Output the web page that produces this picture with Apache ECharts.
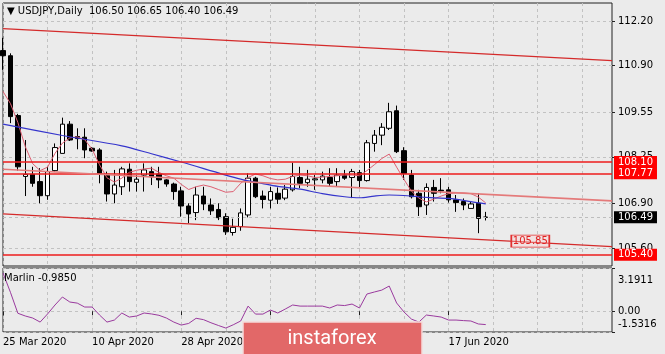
<!DOCTYPE html>
<html>
<head>
<meta charset="utf-8">
<script src="https://cdn.jsdelivr.net/npm/echarts@6/dist/echarts.min.js"></script>
<style>
  html, body { margin: 0; padding: 0; background: #ebebeb; }
  #chart { width: 665px; height: 354px; }
</style>
</head>
<body>
<div id="chart"></div>
<script>
// trading days shown on the chart
var dates = [
  '25 Mar 2020', '26 Mar 2020', '27 Mar 2020', '30 Mar 2020', '31 Mar 2020',
  '1 Apr 2020', '2 Apr 2020', '3 Apr 2020', '6 Apr 2020', '7 Apr 2020', '8 Apr 2020', '9 Apr 2020', '10 Apr 2020',
  '13 Apr 2020', '14 Apr 2020', '15 Apr 2020', '16 Apr 2020', '17 Apr 2020', '20 Apr 2020', '21 Apr 2020',
  '22 Apr 2020', '23 Apr 2020', '24 Apr 2020', '27 Apr 2020', '28 Apr 2020', '29 Apr 2020', '30 Apr 2020',
  '1 May 2020', '4 May 2020', '5 May 2020', '6 May 2020', '7 May 2020', '8 May 2020', '11 May 2020',
  '12 May 2020', '13 May 2020', '14 May 2020', '15 May 2020', '18 May 2020', '19 May 2020', '20 May 2020',
  '21 May 2020', '22 May 2020', '25 May 2020', '26 May 2020', '27 May 2020', '28 May 2020', '29 May 2020',
  '1 Jun 2020', '2 Jun 2020', '3 Jun 2020', '4 Jun 2020', '5 Jun 2020', '8 Jun 2020', '9 Jun 2020',
  '10 Jun 2020', '11 Jun 2020', '12 Jun 2020', '15 Jun 2020', '16 Jun 2020', '17 Jun 2020', '18 Jun 2020',
  '19 Jun 2020', '22 Jun 2020', '23 Jun 2020', '24 Jun 2020'
];
var emptySlots = 17; // chart shift on the right

var opens = [111.34,111.19,109.45,107.68,107.74,107.53,107.12,107.85,108.35,109.20,
  108.84,108.82,108.50,108.45,107.74,107.17,107.38,107.89,107.51,107.72,
  107.82,107.75,107.58,107.46,107.26,106.82,106.63,107.11,106.85,106.72,
  106.51,106.05,106.22,106.56,107.63,107.11,106.99,107.19,107.05,107.29,
  107.65,107.50,107.58,107.58,107.65,107.53,107.72,107.65,107.79,107.56,
  108.64,108.88,109.08,109.59,108.43,107.72,107.19,106.85,107.36,107.28,
  107.29,107.00,106.95,106.75,106.90,106.50];
var highs = [111.71,111.26,109.50,108.74,107.96,107.92,107.96,108.64,109.39,109.29,
  109.08,109.08,108.53,108.50,107.82,107.87,107.96,108.06,107.72,108.06,
  107.96,107.96,107.60,107.50,107.38,106.90,107.38,107.38,107.04,106.90,
  106.61,106.45,106.75,107.77,107.67,107.27,107.38,107.36,107.43,108.08,
  107.96,107.87,107.72,107.82,107.92,107.92,107.87,107.90,107.87,108.74,
  109.03,109.23,109.82,109.74,108.53,107.87,107.29,107.48,107.58,107.63,
  107.38,107.14,107.04,106.95,107.19,106.65];
var lows = [110.78,109.23,107.85,107.11,107.38,106.90,107.00,107.82,108.35,108.71,
  108.47,108.21,108.40,107.48,106.95,106.90,107.14,107.24,107.24,107.24,
  107.43,107.34,107.38,107.00,106.51,106.32,106.41,106.70,106.56,106.41,
  105.98,105.96,106.10,106.49,107.05,106.75,106.75,106.88,106.99,107.24,
  107.34,107.38,107.29,107.48,107.38,107.38,107.58,107.05,107.34,107.53,
  108.40,108.59,109.03,108.36,107.58,107.04,106.53,106.56,106.95,107.19,
  106.92,106.65,106.70,106.75,106.03,106.40];
var closes = [111.19,109.42,107.96,107.74,107.48,107.12,107.82,108.52,109.20,108.74,
  108.78,108.45,108.42,107.77,107.17,107.43,107.90,107.53,107.60,107.87,
  107.67,107.58,107.46,107.24,106.82,106.59,107.14,106.88,106.68,106.48,
  106.07,106.20,106.62,107.63,107.09,107.01,107.24,107.02,107.31,107.68,
  107.48,107.60,107.61,107.69,107.48,107.72,107.63,107.82,107.56,108.66,
  108.88,109.11,109.56,108.40,107.77,107.09,106.80,107.36,107.19,107.26,
  107.00,106.92,106.85,106.88,106.46,106.49];

// fast moving average (pink)
var fastMa = [110.15,109.80,109.25,108.55,108.05,107.85,107.95,108.35,108.65,108.80,
  108.83,108.75,108.47,108.02,107.64,107.52,107.63,107.80,107.86,107.90,
  107.92,107.80,107.70,107.63,107.45,107.30,107.38,107.43,107.38,107.30,
  107.22,107.24,107.48,107.65,107.75,107.70,107.62,107.58,107.60,107.68,
  107.72,107.70,107.65,107.66,107.68,107.70,107.72,107.72,107.70,107.85,
  108.02,108.20,108.33,107.95,107.59,107.25,107.05,106.94,107.02,107.11,
  107.18,107.20,107.20,107.18,107.08,106.91];

// slow moving average (blue), read at a few bars
var slowIdx = [0, 8, 16, 20, 24, 32, 35, 37, 40, 43, 46, 48, 50, 52, 55, 57, 60, 63, 65];
var slowVal = [109.20, 108.87, 108.57, 108.34, 108.10, 107.60, 107.47, 107.39, 107.31, 107.18,
  107.09, 107.06, 107.11, 107.14, 107.11, 107.07, 107.04, 106.95, 106.88];

var marlin = [2.82,1.40,-0.15,-0.35,-0.50,-0.80,-0.20,0.46,1.05,0.68,
  0.60,0.31,0.31,-0.28,-0.80,-0.65,-0.13,-0.43,-0.35,-0.13,
  -0.20,-0.30,-0.50,-0.80,-1.02,-0.90,-0.52,-0.62,-0.85,-1.05,
  -1.24,-1.00,-0.72,0.38,-0.21,-0.21,0.09,-0.13,0.16,0.46,
  0.38,0.38,0.38,0.38,0.24,0.46,0.42,0.53,0.24,1.27,
  1.42,1.56,1.86,0.61,-0.06,-0.58,-0.80,-0.28,-0.35,-0.43,
  -0.65,-0.65,-0.69,-0.72,-0.94,-0.985];

var priceTicks = [112.20, 110.90, 109.55, 108.25, 106.90, 105.60];
var marlinTicks = [3.1911, 0, -1.5316];
var marlinTickText = ['3.1911', '0.00', '-1.5316'];

var levels = [108.10, 107.77, 105.40];
var bidPrice = 106.49;
// channel lines: [start bar, start price, end bar, end price]
var channelTop = [0, 111.98, 82, 111.05];
var channelMid = [0, 107.89, 82, 106.97];
var channelLow = [0, 106.59, 82, 105.64];
var channelNote = { bar: 71, price: 105.80, text: '105.85' };

var font = 'DejaVu Sans';

var cats = dates.slice();
for (var k = 1; k <= emptySlots; k++) cats.push('f' + k);

var ohlc = [];
for (var i = 0; i < opens.length; i++) {
  ohlc.push([opens[i], closes[i], lows[i], highs[i]]);
}
var slowMa = [];
for (var i = 0; i < dates.length; i++) slowMa.push(null);
for (var j = 0; j < slowIdx.length; j++) slowMa[slowIdx[j]] = slowVal[j];

function levelLine(v, bg, line) {
  return {
    yAxis: v,
    lineStyle: line,
    label: {
      show: true, position: 'end', distance: 2,
      formatter: v.toFixed(2),
      color: '#fff', backgroundColor: bg,
      padding: [1, 4, 0, 4], lineHeight: 11,
      fontSize: 10, fontFamily: font
    }
  };
}
function seg(c, color, width) {
  return [
    { coord: [c[0], c[1]], lineStyle: { color: color, width: width, type: 'solid' } },
    { coord: [c[2], c[3]] }
  ];
}
// date ticks every 12 bars, only under real bars
function dateTick(idx) { return idx % 12 === 0 && idx < dates.length; }

var dash = { color: '#c2c2c2', type: [3, 3], width: 1 };

var myChart = echarts.init(document.getElementById('chart'));

var option = {
  animation: false,
  backgroundColor: '#ebebeb',
  title: [
    {
      text: '▼ USDJPY,Daily  106.50 106.65 106.40 106.49',
      left: 7, top: 6, padding: 0,
      textStyle: { fontSize: 10, fontWeight: 'normal', fontFamily: font, color: '#000' }
    },
    {
      text: 'Marlin -0.9850',
      left: 4, top: 273, padding: 0,
      textStyle: { fontSize: 10, fontWeight: 'normal', fontFamily: font, color: '#000' }
    }
  ],
  grid: [
    { left: 3, right: 53, top: 3, height: 263, show: true, borderColor: '#222', borderWidth: 1 },
    { left: 3, right: 53, top: 268, height: 64, show: true, borderColor: '#222', borderWidth: 1 }
  ],
  xAxis: [
    {
      type: 'category', gridIndex: 0, data: cats, boundaryGap: false,
      axisLine: { show: false }, axisTick: { show: false }, axisLabel: { show: false },
      splitLine: { show: true, interval: 5, lineStyle: dash }
    },
    {
      type: 'category', gridIndex: 1, data: cats, boundaryGap: false,
      axisLine: { show: false },
      axisTick: { show: true, interval: dateTick, length: 4, lineStyle: { color: '#222' } },
      axisLabel: {
        show: true, interval: dateTick, align: 'left', margin: 5,
        fontSize: 10, fontFamily: font, color: '#000'
      },
      splitLine: { show: true, interval: 5, lineStyle: dash }
    }
  ],
  yAxis: [
    {
      type: 'value', gridIndex: 0, position: 'right',
      min: 105.076, max: 112.723,
      axisLine: { show: false },
      axisTick: { show: true, length: 3, customValues: priceTicks, lineStyle: { color: '#222' } },
      axisLabel: {
        customValues: priceTicks, margin: 6,
        fontSize: 10, fontFamily: font, color: '#000',
        formatter: function (v) { return v.toFixed(2); }
      },
      splitLine: { show: true, lineStyle: dash }
    },
    {
      type: 'value', gridIndex: 1, position: 'right',
      min: -1.5316, max: 3.1911,
      axisLine: { show: false },
      axisTick: { show: true, length: 3, customValues: marlinTicks, lineStyle: { color: '#222' } },
      axisLabel: {
        customValues: marlinTicks, margin: 6,
        fontSize: 10, fontFamily: font, color: '#000',
        formatter: function (v) {
          var best = 0;
          for (var n = 1; n < marlinTicks.length; n++) {
            if (Math.abs(marlinTicks[n] - v) < Math.abs(marlinTicks[best] - v)) best = n;
          }
          return '{p' + best + '|' + marlinTickText[best] + '}';
        },
        rich: {
          p0: { padding: [24, 0, 0, 0], fontSize: 10, fontFamily: font },
          p1: { fontSize: 10, fontFamily: font },
          p2: { padding: [0, 0, 16, 0], fontSize: 10, fontFamily: font }
        }
      },
      splitLine: { show: true, lineStyle: dash }
    }
  ],
  series: [
    {
      name: 'USDJPY',
      type: 'candlestick',
      xAxisIndex: 0, yAxisIndex: 0,
      data: ohlc,
      barWidth: 5,
      itemStyle: {
        color: '#ffffff', color0: '#000000',
        borderColor: '#000000', borderColor0: '#000000', borderWidth: 1
      },
      markLine: {
        symbol: 'none', silent: true,
        label: { show: false },
        data: [
          levelLine(levels[0], '#ff0000', { color: '#ee1c1c', width: 1.5, type: 'solid' }),
          levelLine(levels[1], '#ff0000', { color: '#ee1c1c', width: 1.5, type: 'solid' }),
          levelLine(levels[2], '#ff0000', { color: '#ee1c1c', width: 1.5, type: 'solid' }),
          levelLine(bidPrice, '#000000', { color: '#bdbdbd', width: 1, type: [3, 3] }),
          seg(channelTop, '#d42a2a', 1.3),
          seg(channelMid, '#e47a7a', 1.6),
          seg(channelLow, '#d42a2a', 1.3)
        ]
      },
      markPoint: {
        silent: true,
        data: [{
          coord: [channelNote.bar, channelNote.price],
          symbol: 'rect', symbolSize: [38, 12],
          itemStyle: { color: 'rgba(255,205,205,0.35)', borderColor: '#e23030', borderWidth: 1 },
          label: {
            show: true, position: 'inside', formatter: channelNote.text,
            color: '#e02020', fontSize: 10, fontFamily: font
          }
        }]
      }
    },
    {
      name: 'MA fast',
      type: 'line', xAxisIndex: 0, yAxisIndex: 0,
      data: fastMa, symbol: 'none',
      lineStyle: { color: '#dd5f72', width: 1 }
    },
    {
      name: 'MA slow',
      type: 'line', xAxisIndex: 0, yAxisIndex: 0,
      data: slowMa, symbol: 'none', connectNulls: true, smooth: 0.3,
      lineStyle: { color: '#3535cc', width: 1.2 }
    },
    {
      name: 'Marlin',
      type: 'line', xAxisIndex: 1, yAxisIndex: 1,
      data: marlin, symbol: 'none',
      lineStyle: { color: '#9a3a9e', width: 1 }
    }
  ],
  graphic: [
    {
      type: 'rect', zlevel: 1, z: 100,
      shape: { x: 243, y: 322, width: 179, height: 34 },
      style: { fill: '#e26868', stroke: '#f6dada', lineWidth: 1.5 }
    },
    {
      type: 'text', zlevel: 1, z: 101,
      x: 332, y: 339,
      style: {
        text: 'instaforex', fill: '#ffffff',
        font: '20px Roboto', align: 'center', verticalAlign: 'middle'
      }
    }
  ]
};

myChart.setOption(option);
</script>
</body>
</html>
